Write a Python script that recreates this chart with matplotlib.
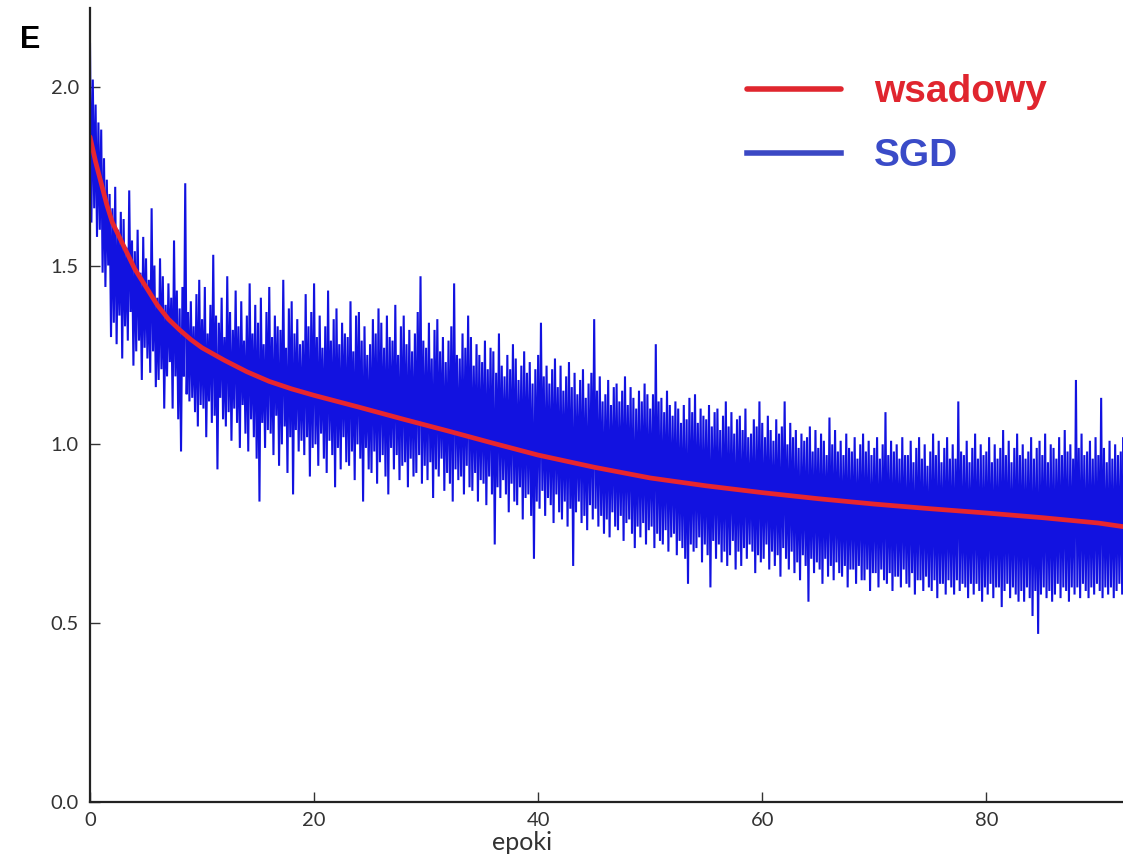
import numpy as np
import matplotlib
matplotlib.use("Agg")
import matplotlib.pyplot as plt

# błąd (E) dla uczenia wsadowego - odczyt z krzywej
batch_epochs = [0, 0.5, 1, 1.5, 2, 3, 4, 5, 6, 7, 8, 9, 10, 12, 14, 16, 18,
                20, 24, 28, 32, 36, 40, 45, 50, 55, 60, 65, 70, 75, 80, 85,
                90, 92.2]
batch_err = [1.86, 1.79, 1.73, 1.67, 1.62, 1.555, 1.49, 1.44, 1.39, 1.35,
             1.32, 1.293, 1.27, 1.235, 1.203, 1.176, 1.155, 1.137, 1.104,
             1.07, 1.037, 1.003, 0.97, 0.936, 0.906, 0.884, 0.865, 0.848,
             0.833, 0.82, 0.808, 0.795, 0.78, 0.77]

# błąd dla SGD - 8 odczytów na epokę (jeden wiersz = jedna epoka)
sgd_per_epoch = 8
sgd_err = [
    2.12, 1.62, 2.02, 1.66, 1.95, 1.58, 1.90, 1.60,
    1.88, 1.48, 1.80, 1.44, 1.74, 1.50, 1.70, 1.30,
    1.66, 1.34, 1.72, 1.28, 1.60, 1.36, 1.65, 1.24,
    1.63, 1.33, 1.55, 1.29, 1.71, 1.37, 1.57, 1.22,
    1.54, 1.26, 1.60, 1.29, 1.48, 1.18, 1.58, 1.27,
    1.52, 1.24, 1.46, 1.20, 1.66, 1.26, 1.50, 1.16,
    1.41, 1.18, 1.52, 1.21, 1.47, 1.10, 1.39, 1.19,
    1.45, 1.23, 1.41, 1.10, 1.57, 1.19, 1.43, 1.07,
    1.38, 0.98, 1.44, 1.19, 1.73, 1.14, 1.37, 1.12,
    1.40, 1.13, 1.33, 1.09, 1.42, 1.05, 1.46, 1.11,
    1.35, 1.10, 1.44, 1.02, 1.31, 1.12, 1.39, 1.06,
    1.53, 1.08, 1.36, 0.93, 1.34, 1.13, 1.41, 1.07,
    1.30, 1.05, 1.47, 1.09, 1.37, 1.01, 1.32, 1.10,
    1.43, 1.06, 1.33, 0.99, 1.40, 1.11, 1.29, 1.03,
    1.36, 0.98, 1.45, 1.07, 1.31, 1.02, 1.39, 0.96,
    1.34, 0.84, 1.41, 1.06, 1.28, 0.99, 1.37, 1.04,
    1.44, 1.03, 1.30, 0.97, 1.36, 1.08, 1.33, 0.94,
    1.32, 1.00, 1.46, 1.05, 1.27, 0.92, 1.38, 1.02,
    1.40, 0.86, 1.31, 1.04, 1.35, 0.98, 1.28, 1.01,
    1.29, 0.97, 1.42, 1.02, 1.33, 0.91, 1.37, 0.99,
    1.45, 1.00, 1.30, 0.94, 1.36, 1.03, 1.27, 0.96,
    1.33, 0.92, 1.43, 1.01, 1.29, 0.97, 1.35, 0.88,
    1.38, 0.99, 1.28, 0.93, 1.34, 1.02, 1.31, 0.95,
    1.30, 0.94, 1.40, 0.98, 1.26, 0.90, 1.36, 1.00,
    1.37, 0.96, 1.29, 0.84, 1.33, 0.99, 1.25, 0.93,
    1.28, 0.92, 1.35, 0.98, 1.31, 0.89, 1.38, 0.95,
    1.34, 0.97, 1.27, 0.91, 1.36, 0.86, 1.30, 0.99,
    1.29, 0.93, 1.39, 0.97, 1.25, 0.90, 1.33, 0.94,
    1.36, 0.95, 1.28, 0.88, 1.32, 0.96, 1.26, 0.91,
    1.31, 0.92, 1.37, 0.97, 1.47, 0.89, 1.29, 0.94,
    1.27, 0.90, 1.34, 0.95, 1.24, 0.85, 1.32, 0.93,
    1.35, 0.91, 1.26, 0.96, 1.30, 0.87, 1.23, 0.92,
    1.29, 0.89, 1.33, 0.84, 1.45, 0.93, 1.25, 0.90,
    1.24, 0.91, 1.31, 0.86, 1.27, 0.94, 1.36, 0.88,
    1.30, 0.87, 1.22, 0.92, 1.28, 0.84, 1.25, 0.90,
    1.23, 0.89, 1.29, 0.83, 1.21, 0.91, 1.27, 0.86,
    1.26, 0.72, 1.20, 0.88, 1.31, 0.85, 1.22, 0.90,
    1.19, 0.86, 1.25, 0.81, 1.21, 0.89, 1.28, 0.84,
    1.24, 0.83, 1.18, 0.88, 1.22, 0.79, 1.26, 0.85,
    1.20, 0.86, 1.23, 0.80, 1.17, 0.68, 1.21, 0.84,
    1.25, 0.82, 1.34, 0.87, 1.19, 0.80, 1.22, 0.85,
    1.17, 0.83, 1.21, 0.78, 1.24, 0.86, 1.16, 0.81,
    1.22, 0.79, 1.15, 0.84, 1.19, 0.77, 1.23, 0.82,
    1.16, 0.66, 1.20, 0.81, 1.14, 0.84, 1.18, 0.78,
    1.21, 0.80, 1.13, 0.76, 1.17, 0.83, 1.20, 0.79,
    1.35, 0.82, 1.15, 0.77, 1.19, 0.80, 1.12, 0.75,
    1.14, 0.79, 1.18, 0.74, 1.11, 0.81, 1.16, 0.77,
    1.17, 0.76, 1.12, 0.80, 1.15, 0.73, 1.19, 0.78,
    1.11, 0.79, 1.16, 0.75, 1.13, 0.71, 1.10, 0.77,
    1.15, 0.74, 1.12, 0.78, 1.17, 0.72, 1.14, 0.76,
    1.10, 0.77, 1.14, 0.71, 1.28, 0.75, 1.12, 0.73,
    1.13, 0.72, 1.09, 0.76, 1.15, 0.70, 1.11, 0.74,
    1.08, 0.75, 1.12, 0.69, 1.10, 0.73, 1.06, 0.71,
    1.11, 0.68, 1.07, 0.61, 1.13, 0.72, 1.09, 0.70,
    1.14, 0.71, 1.06, 0.74, 1.10, 0.67, 1.08, 0.72,
    1.07, 0.69, 1.11, 0.60, 1.05, 0.73, 1.09, 0.68,
    1.10, 0.72, 1.04, 0.67, 1.08, 0.70, 1.12, 0.66,
    1.05, 0.69, 1.09, 0.73, 1.03, 0.65, 1.07, 0.70,
    1.08, 0.66, 1.04, 0.71, 1.10, 0.68, 1.02, 0.72,
    1.03, 0.70, 1.07, 0.64, 1.05, 0.69, 1.12, 0.67,
    1.06, 0.68, 1.02, 0.72, 1.08, 0.65, 1.04, 0.70,
    1.01, 0.66, 1.07, 0.69, 1.03, 0.63, 1.05, 0.71,
    1.12, 0.68, 1.00, 0.65, 1.06, 0.70, 1.02, 0.64,
    1.04, 0.67, 0.99, 0.62, 1.03, 0.69, 1.01, 0.66,
    1.02, 0.56, 1.05, 0.68, 0.98, 0.64, 1.04, 0.67,
    0.99, 0.65, 1.03, 0.61, 1.01, 0.68, 0.97, 0.63,
    1.075, 0.66, 1.00, 0.62, 1.04, 0.67, 0.98, 0.64,
    1.01, 0.63, 0.97, 0.66, 1.03, 0.60, 0.99, 0.65,
    0.98, 0.65, 1.02, 0.61, 0.96, 0.66, 1.00, 0.62,
    1.03, 0.62, 0.98, 0.65, 1.01, 0.59, 0.97, 0.64,
    0.99, 0.64, 1.02, 0.60, 0.96, 0.65, 1.00, 0.62,
    1.09, 0.61, 0.97, 0.64, 1.01, 0.59, 0.98, 0.63,
    1.00, 0.63, 0.96, 0.60, 1.02, 0.65, 0.97, 0.61,
    0.97, 0.60, 1.01, 0.64, 0.95, 0.58, 0.99, 0.62,
    1.02, 0.62, 0.96, 0.59, 1.00, 0.63, 0.94, 0.60,
    0.98, 0.59, 1.03, 0.62, 0.97, 0.57, 1.01, 0.61,
    0.95, 0.61, 0.99, 0.58, 1.02, 0.62, 0.96, 0.60,
    1.00, 0.58, 0.96, 0.62, 1.12, 0.59, 0.98, 0.61,
    0.97, 0.60, 1.01, 0.57, 0.95, 0.61, 0.99, 0.58,
    1.03, 0.61, 0.96, 0.59, 1.00, 0.56, 0.97, 0.60,
    0.98, 0.58, 1.02, 0.61, 0.95, 0.57, 1.00, 0.60,
    0.96, 0.60, 0.99, 0.545, 1.04, 0.59, 0.97, 0.61,
    1.01, 0.57, 0.95, 0.60, 0.99, 0.58, 1.03, 0.56,
    0.97, 0.59, 1.00, 0.56, 0.96, 0.60, 0.98, 0.57,
    1.02, 0.52, 0.96, 0.59, 0.99, 0.47, 1.01, 0.58,
    0.97, 0.60, 1.03, 0.57, 0.95, 0.59, 1.00, 0.56,
    0.99, 0.58, 0.96, 0.61, 1.02, 0.57, 0.97, 0.60,
    1.04, 0.59, 0.98, 0.56, 1.00, 0.60, 0.96, 0.58,
    1.18, 0.60, 0.99, 0.57, 1.03, 0.61, 0.97, 0.59,
    0.98, 0.57, 1.01, 0.60, 0.96, 0.58, 1.02, 0.61,
    0.97, 0.59, 1.13, 0.57, 0.99, 0.60, 0.95, 0.58,
    1.01, 0.60, 0.96, 0.57, 1.00, 0.59, 0.97, 0.61,
    0.98, 0.58, 1.02, 0.60, 0.96, 0.59, 0.99, 0.60,
]
sgd_epochs = np.arange(len(sgd_err)) / sgd_per_epoch

xticks = [0, 20, 40, 60, 80]
yticks = [0.0, 0.5, 1.0, 1.5, 2.0]

plt.rcParams['font.family'] = ['Lato', 'DejaVu Sans']

fig = plt.figure(figsize=(11.23, 8.57), dpi=100)
ax = fig.add_axes([90/1123, 1 - 802/857, 1 - 90/1123, (802 - 8)/857])

l_sgd, = ax.plot(sgd_epochs, sgd_err, color='#1212e0', lw=1.5,
                 solid_joinstyle='miter')
l_batch, = ax.plot(batch_epochs, batch_err, color='#e8262e', lw=3.4,
                   solid_capstyle='round', solid_joinstyle='round')

ax.set_xlim(0, 92.2)
ax.set_ylim(0, 2.22)
ax.set_xticks(xticks)
ax.set_yticks(yticks)
ax.set_yticklabels(['%.1f' % v for v in yticks])
ax.spines['top'].set_visible(False)
ax.spines['right'].set_visible(False)
for s in ['left', 'bottom']:
    ax.spines[s].set_linewidth(1.6)
    ax.spines[s].set_color('#222222')
ax.tick_params(direction='in', length=7, width=1, colors='#333333',
               labelsize=14.5, pad=8)
ax.tick_params(axis='x', pad=7)

fig.text(522/1123, 1 - 842/857, 'epoki', ha='center', va='center',
         fontsize=18, color='#333333')
fig.text(30/1123, 1 - 40/857, 'E', ha='center', va='center',
         fontsize=22, fontweight='bold', family='Liberation Sans')

leg = ax.legend([l_batch, l_sgd], ['wsadowy', 'SGD'],
                loc='upper left', bbox_to_anchor=(728/1123, 1 - 55/857),
                bbox_transform=fig.transFigure, frameon=False,
                prop={'family': 'Liberation Sans', 'weight': 'bold', 'size': 28},
                handlelength=2.4, handletextpad=0.85, labelspacing=0.72,
                borderpad=0)
leg.legend_handles[0].set_color('#e0262e')
leg.legend_handles[0].set_linewidth(4)
leg.legend_handles[1].set_color('#3b48c4')
leg.legend_handles[1].set_linewidth(4)
leg.get_texts()[0].set_color('#e0252e')
leg.get_texts()[1].set_color('#3a4bc8')

fig.savefig('out.png', dpi=100)
